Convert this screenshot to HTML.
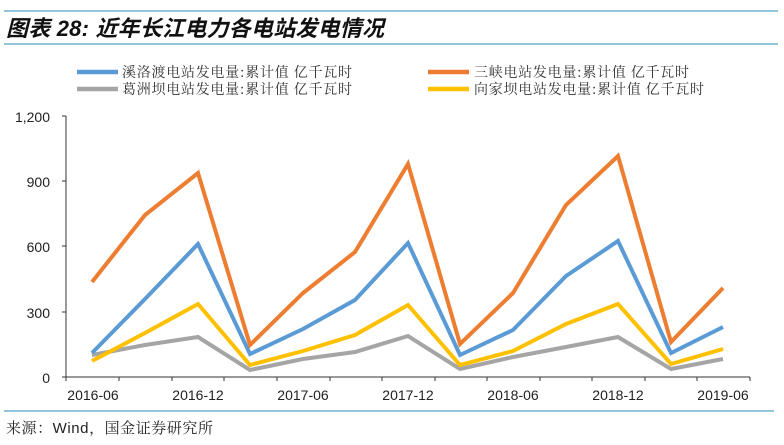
<!DOCTYPE html>
<html><head><meta charset="utf-8"><style>
body{margin:0;background:#fff;width:784px;height:445px;overflow:hidden}
svg{display:block}
</style></head><body>
<svg width="784" height="445" xmlns="http://www.w3.org/2000/svg">
<line x1="4" y1="11" x2="778" y2="11" stroke="#6fb3d2" stroke-width="1.5"/>
<line x1="4" y1="44" x2="778" y2="44" stroke="#6fb3d2" stroke-width="1.5"/>
<text x="6" y="36" font-family="Liberation Sans,'Noto Sans CJK SC',sans-serif" font-size="22" font-weight="bold" font-style="italic" fill="#111" textLength="378">图表 28:  近年长江电力各电站发电情况</text>
<g font-family="'Noto Serif CJK SC','Liberation Serif',serif" font-size="14" fill="#333">
<line x1="77" y1="72" x2="118" y2="72" stroke="#5b9bd5" stroke-width="4.5"/><text x="122" y="77" textLength="230">溪洛渡电站发电量:累计值 亿千瓦时</text>
<line x1="77" y1="89" x2="118" y2="89" stroke="#a5a5a5" stroke-width="4.5"/><text x="122" y="94" textLength="230">葛洲坝电站发电量:累计值 亿千瓦时</text>
<line x1="428" y1="72" x2="469" y2="72" stroke="#ed7d31" stroke-width="4.5"/><text x="474" y="77" textLength="215">三峡电站发电量:累计值 亿千瓦时</text>
<line x1="428" y1="89" x2="469" y2="89" stroke="#ffc000" stroke-width="4.5"/><text x="474" y="94" textLength="230">向家坝电站发电量:累计值 亿千瓦时</text>
</g>
<g font-family="Liberation Sans,sans-serif" font-size="14" fill="#222" text-anchor="end">
<text x="50" y="122">1,200</text><text x="50" y="187">900</text><text x="50" y="252">600</text><text x="50" y="318">300</text><text x="50" y="383">0</text>
</g>
<line x1="66" y1="116" x2="66" y2="377" stroke="#333"/>
<g stroke="#333"><line x1="62" y1="116" x2="66" y2="116"/><line x1="62" y1="181" x2="66" y2="181"/><line x1="62" y1="246" x2="66" y2="246"/><line x1="62" y1="312" x2="66" y2="312"/></g>
<line x1="62" y1="377" x2="750" y2="377" stroke="#333"/>
<g font-family="Liberation Sans,sans-serif" font-size="14" fill="#222" text-anchor="middle">
<text x="93" y="400">2016-06</text><text x="198" y="400">2016-12</text><text x="303" y="400">2017-06</text><text x="408" y="400">2017-12</text><text x="513" y="400">2018-06</text><text x="618" y="400">2018-12</text><text x="723" y="400">2019-06</text>
</g>
<g stroke="#333">
<line x1="66" y1="377" x2="66" y2="381"/><line x1="119" y1="377" x2="119" y2="381"/><line x1="172" y1="377" x2="172" y2="381"/><line x1="224" y1="377" x2="224" y2="381"/><line x1="277" y1="377" x2="277" y2="381"/><line x1="330" y1="377" x2="330" y2="381"/><line x1="382" y1="377" x2="382" y2="381"/><line x1="435" y1="377" x2="435" y2="381"/><line x1="487" y1="377" x2="487" y2="381"/><line x1="540" y1="377" x2="540" y2="381"/><line x1="592" y1="377" x2="592" y2="381"/><line x1="645" y1="377" x2="645" y2="381"/><line x1="697" y1="377" x2="697" y2="381"/><line x1="750" y1="377" x2="750" y2="381"/>
</g>
<g fill="none" stroke-width="4" stroke-linejoin="miter">
<polyline stroke="#a5a5a5" points="92,355 145,345 198,337 250,370 303,359 355,352 408,336 460,369 513,357 566,347 618,337 671,369 723,359"/>
<polyline stroke="#ffc000" points="92,361 145,333 198,304 250,365 303,351 355,335 408,305 460,365 513,351 566,324 618,304 671,364 723,349"/>
<polyline stroke="#5b9bd5" points="92,353 145,299 198,244 250,354 303,329 355,300 408,243 460,355 513,330 566,276 618,241 671,353 723,327"/>
<polyline stroke="#ed7d31" points="92,282 145,215 198,173 250,345 303,293 355,252 408,164 460,344 513,293 566,205 618,156 671,342 723,288"/>
</g>
<line x1="4" y1="411" x2="774" y2="411" stroke="#6fb3d2" stroke-width="1.5"/>
<text x="6" y="433" font-family="Liberation Sans,'Noto Serif CJK SC',serif" font-size="15" fill="#222" textLength="207">来源：Wind，国金证券研究所</text>
</svg>
</body></html>
